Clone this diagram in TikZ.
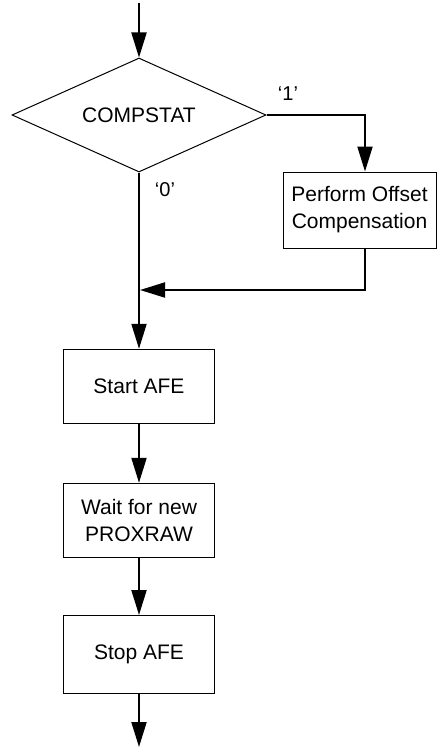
\documentclass[tikz,border=0pt]{standalone}
\usepackage{fontspec}
\setmainfont{Liberation Sans}
\usetikzlibrary{shapes.geometric,arrows.meta}
\begin{document}
\begin{tikzpicture}[x=1pt,y=-1pt,
  box/.style={draw,line width=1pt,minimum width=151pt,minimum height=74pt,align=center,inner sep=0pt,font=\fontsize{21}{27}\selectfont},
  dec/.style={draw,diamond,line width=1pt,minimum width=254pt,minimum height=114pt,aspect=2.23,inner sep=0pt,font=\fontsize{21}{27}\selectfont},
  flow/.style={line width=2pt,-{Triangle[length=25pt,width=15pt]}},
  lbl/.style={font=\fontsize{20}{24}\selectfont,inner sep=0pt}]
\useasboundingbox (0,0) rectangle (440,749);
\coordinate (in) at (139,3);
\node[dec] (cs) at (139,115) {COMPSTAT};
\node[box,minimum width=153pt,minimum height=76pt] (po) at (359.5,210) {Perform Offset\\Compensation};
\coordinate (merge) at (139,290);
\node[box] (sa) at (139,386.3) {Start AFE};
\node[box] (wp) at (139,520.3) {Wait for new\\PROXRAW};
\node[box,minimum height=78pt] (so) at (139,654.5) {Stop AFE};
\coordinate (out) at (139,747);
\node[lbl] (l1) at (288,94) {‘1’};
\node[lbl] (l0) at (165,190) {‘0’};
\draw[flow] (in) -- (cs.north);
\draw[flow] (cs.east) -| ([xshift=5.5pt]po.north);
\draw[line width=2pt] ([xshift=5.5pt]po.south) |- ([xshift=10pt]merge);
\draw[flow] ([xshift=10pt]merge) -- ([xshift=1pt]merge);
\draw[flow] (cs.south) -- (sa.north);
\draw[flow] (sa.south) -- (wp.north);
\draw[flow] (wp.south) -- (so.north);
\draw[flow] (so.south) -- (out);
\end{tikzpicture}
\end{document}
